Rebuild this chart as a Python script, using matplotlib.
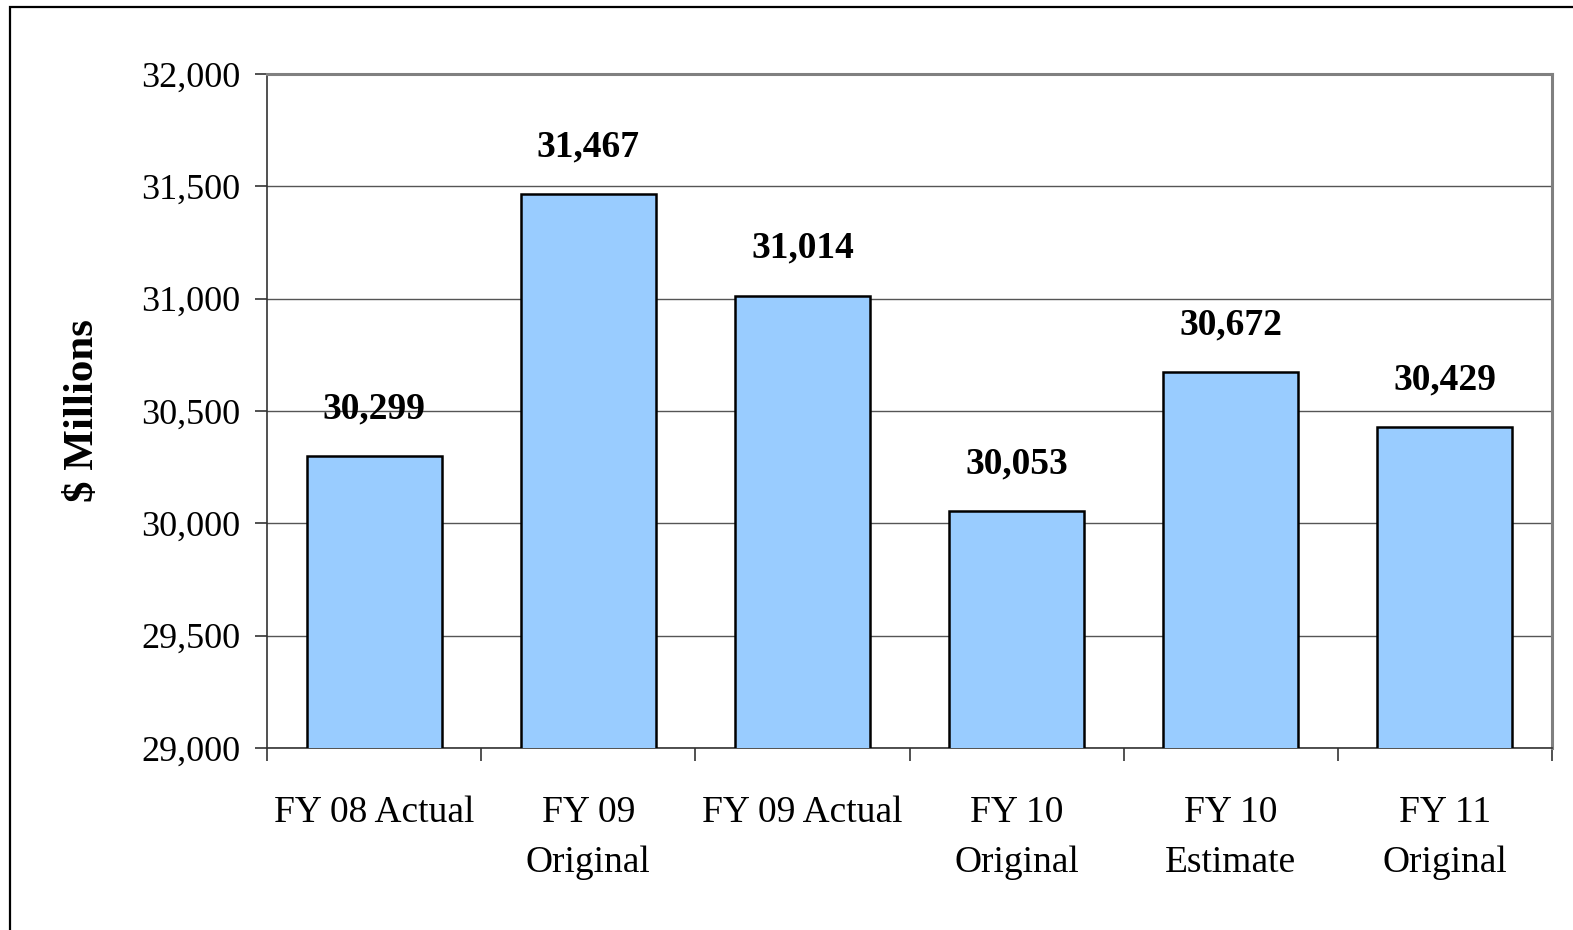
import matplotlib.pyplot as plt
from matplotlib.patches import Rectangle
from matplotlib.ticker import FuncFormatter

categories = ["FY 08 Actual", "FY 09\nOriginal", "FY 09 Actual",
              "FY 10\nOriginal", "FY 10\nEstimate", "FY 11\nOriginal"]
values = [30299, 31467, 31014, 30053, 30672, 30429]
y_ticks = [29000, 29500, 30000, 30500, 31000, 31500, 32000]

plt.rcParams['font.family'] = ['Liberation Serif', 'DejaVu Serif']

W, H = 1573, 930
fig = plt.figure(figsize=(W / 100, H / 100), dpi=100)
ax = fig.add_axes([267 / W, 1 - 748 / H, (1552 - 267) / W, (748 - 74) / H])

# outer frame of the chart object
fig.patches.append(Rectangle((10 / W, -0.05), 1.1, 1 - 7 / H + 0.05, transform=fig.transFigure,
                             fill=False, edgecolor='black', linewidth=1.6))

x = range(len(categories))
ax.bar(x, values, width=0.63, color='#99CCFF', edgecolor='black', linewidth=1.8, zorder=3)

for i, v in enumerate(values):
    ax.annotate(f"{v:,}", (i, v), xytext=(0, 34), textcoords='offset points',
                ha='center', va='center', fontsize=27, fontweight='bold')

ax.set_xlim(-0.5, len(categories) - 0.5)
ax.set_ylim(29000, 32000)
ax.set_yticks(y_ticks)
ax.yaxis.set_major_formatter(FuncFormatter(lambda v, p: f"{int(v):,}"))
ax.grid(axis='y', color='#555555', linewidth=1.0, zorder=0)

ax.set_xticks(list(x))
ax.set_xticklabels(categories, fontsize=27, linespacing=1.6)
ax.set_xticks([i + 0.5 for i in range(-1, len(categories))], minor=True)
ax.tick_params(axis='x', which='major', length=0, pad=34)
ax.tick_params(axis='x', which='minor', length=9, width=1.2, color='#333333')
ax.tick_params(axis='y', length=9, width=1.2, color='#333333', labelsize=26, pad=10)

ax.set_ylabel("$ Millions", fontsize=31, fontweight='bold', labelpad=28)

for s in ['left', 'bottom']:
    ax.spines[s].set_color('#333333')
    ax.spines[s].set_linewidth(1.2)
for s in ['top', 'right']:
    ax.spines[s].set_color('#808080')
    ax.spines[s].set_linewidth(2.2)

fig.savefig("out.png", dpi=100)
